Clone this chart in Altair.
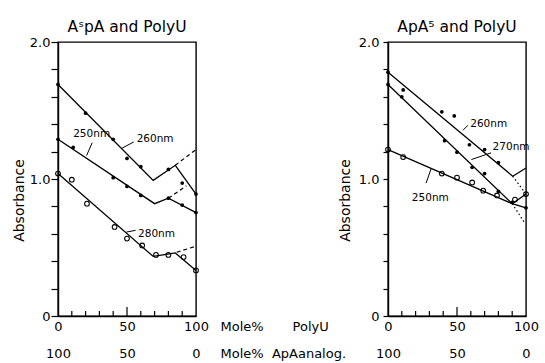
import altair as alt
import pandas as pd

FONT = "DejaVu Sans"
W, H = 138, 274
NB = "\u00a0"

X_DOMAIN = [0, 100]
Y_DOMAIN = [0, 2]

# ---------------- Left panel: AˢpA and PolyU ----------------
L260_px = [0, 20, 40, 50, 60, 80, 90, 100]
L260_py = [1.69, 1.48, 1.29, 1.15, 1.09, 1.07, 0.97, 0.89]
L250_px = [0, 11, 40, 50, 60, 80, 90, 100]
L250_py = [1.29, 1.23, 1.01, 0.946, 0.88, 0.86, 0.81, 0.755]
L280_px = [0, 10, 21, 41, 50, 61, 71, 80, 91, 100]
L280_py = [1.04, 0.995, 0.82, 0.65, 0.565, 0.515, 0.446, 0.446, 0.43, 0.333]

L260_lx, L260_ly = [0, 69, 85, 100], [1.69, 0.99, 1.10, 0.89]
L250_lx, L250_ly = [0, 70, 80, 100], [1.29, 0.82, 0.86, 0.755]
L280_lx, L280_ly = [0, 69, 85, 100], [1.04, 0.435, 0.46, 0.333]
L260_dx, L260_dy = [85, 100], [1.10, 1.215]
L250_dx, L250_dy = [80, 93], [0.86, 0.95]
L280_dx, L280_dy = [86, 100], [0.465, 0.51]

L_lab_text = ["260nm", "250nm", "280nm"]
L_lab_x = [57, 11, 58]
L_lab_y = [1.29, 1.33, 0.60]
L_arr_x = [54.9, 24.8, 56.2]
L_arr_y = [1.27, 1.265, 0.625]
L_arr_x2 = [46.5, 20.7, 49.6]
L_arr_y2 = [1.226, 1.171, 0.613]

# ---------------- Right panel: ApA⁵ and PolyU ----------------
R260_px = [0, 11, 39, 48, 59, 70, 80]
R260_py = [1.78, 1.65, 1.49, 1.46, 1.25, 1.215, 1.12]
R270_px = [0, 10, 41, 50, 61, 70, 80, 90, 100]
R270_py = [1.69, 1.60, 1.28, 1.196, 1.085, 1.04, 0.91, 0.83, 0.79]
R250_px = [0, 11, 39, 50, 61, 69, 79, 92, 100]
R250_py = [1.215, 1.16, 1.04, 1.01, 0.975, 0.915, 0.88, 0.85, 0.89]

R260_lx, R260_ly = [0, 90.4, 100], [1.78, 1.02, 1.08]
R270_lx, R270_ly = [0, 90, 100], [1.69, 0.82, 0.79]
R250_lx, R250_ly = [0, 90, 100], [1.215, 0.82, 0.89]
R260_dx, R260_dy = [90.4, 100], [1.02, 0.89]
R270_dx, R270_dy = [90, 99], [0.82, 0.68]

R_lab_text = ["260nm", "270nm", "250nm"]
R_lab_x = [59.6, 75.8, 17.3]
R_lab_y = [1.40, 1.23, 0.86]
R_arr_x = [57.9, 74.7, 31.2]
R_arr_y = [1.392, 1.191, 1.074]
R_arr_x2 = [54.3, 60.4, 27.6]
R_arr_y2 = [1.355, 1.142, 0.97]

Y_TICKS = [0, 0.2, 0.4, 0.6, 0.8, 1.0, 1.2, 1.4, 1.6, 1.8, 2.0]
X_MINOR = [10, 20, 30, 40, 60, 70, 80, 90]
X_MID = [50]
X_LABELS = [0, 50, 100]
MINOR_LEN = 0.037   # inward x-tick length in absorbance units
MID_LEN = 0.066


def seg_df(segs):
    rows = []
    for sid, (xs, ys) in enumerate(segs):
        for i, (a, b) in enumerate(zip(xs, ys)):
            rows.append(dict(x=a, y=b, seg=sid, i=i))
    return pd.DataFrame(rows)


def pts_df(groups):
    rows = []
    for kind, xs, ys in groups:
        for a, b in zip(xs, ys):
            rows.append(dict(x=a, y=b, kind=kind))
    return pd.DataFrame(rows)


def panel(title, solid, dashed, dash_pattern, filled, opened, lab, arr,
          xtitle, ytitle_x, ylab_pad, ytick):
    xs = alt.Scale(domain=X_DOMAIN, nice=False, zero=False)
    ys = alt.Scale(domain=Y_DOMAIN, nice=False, zero=True)
    x_axis = alt.Axis(
        values=X_LABELS, ticks=False, tickSize=0, domain=True,
        domainColor="black", domainWidth=1.4, grid=False,
        labelExpr="[datum.label, toString(100 - datum.value)]",
        labelLineHeight=27, labelPadding=4, labelFont=FONT, labelFontSize=13,
        labelColor="black", labelFlush=False,
        title=xtitle if xtitle else "",
        titleFont=FONT, titleFontSize=13, titleFontWeight="normal",
        titleColor="black", titleAlign="left", titleBaseline="top",
        titleX=162, titleY=4, titleLineHeight=27,
    )
    y_axis = alt.Axis(
        values=Y_TICKS, grid=False, domain=True, domainColor="black",
        domainWidth=1.4, ticks=True, tickSize=ytick, tickColor="black",
        tickWidth=1.2,
        labelExpr="datum.value == 0 ? '0' : (abs(datum.value - 1) < 0.01 || abs(datum.value - 2) < 0.01) ? format(datum.value, '.1f') : ''",
        labelFont=FONT, labelFontSize=13, labelColor="black",
        labelPadding=ylab_pad, labelFlush=False,
        title="Absorbance", titleFont=FONT, titleFontSize=14,
        titleFontWeight="normal", titleColor="black", titleAngle=270,
        titleAlign="center", titleBaseline="middle",
        titleX=ytitle_x, titleY=158,
    )
    X = alt.X("x:Q", scale=xs, axis=x_axis)
    Y = alt.Y("y:Q", scale=ys, axis=y_axis)

    lines = alt.Chart(seg_df(solid)).mark_line(color="black", strokeWidth=1.3).encode(
        x=X, y=Y, detail="seg:N", order="i:O")
    dlines = alt.Chart(seg_df(dashed)).mark_line(
        color="black", strokeWidth=1.2, strokeDash=dash_pattern).encode(
        x=X, y=Y, detail="seg:N", order="i:O")
    fpts = alt.Chart(pts_df(filled)).mark_point(
        filled=True, color="black", size=14, opacity=1).encode(x=X, y=Y)
    layers = [lines, dlines, fpts]
    if opened:
        opts = alt.Chart(pts_df(opened)).mark_point(
            filled=False, color="black", size=22, strokeWidth=1.1, opacity=1
        ).encode(x=X, y=Y)
        layers.append(opts)
    labdf = pd.DataFrame(dict(x=lab[1], y=lab[2], t=lab[0]))
    texts = alt.Chart(labdf).mark_text(
        align="left", baseline="middle", font=FONT, fontSize=10.5,
        color="black").encode(x=X, y=Y, text="t:N")
    arrdf = pd.DataFrame(dict(x=arr[0], y=arr[1], x2=arr[2], y2=arr[3]))
    arrows = alt.Chart(arrdf).mark_rule(color="black", strokeWidth=1).encode(
        x=X, y=Y, x2="x2:Q", y2="y2:Q")
    tickdf = pd.DataFrame(dict(
        x=X_MINOR + X_MID, y=[0] * (len(X_MINOR) + len(X_MID)),
        y2=[MINOR_LEN] * len(X_MINOR) + [MID_LEN] * len(X_MID)))
    ticks = alt.Chart(tickdf).mark_rule(color="black", strokeWidth=1.2).encode(
        x=X, y=Y, y2="y2:Q")
    layers += [texts, arrows, ticks]
    return alt.layer(*layers).properties(
        width=W, height=H,
        title=alt.TitleParams(text=title, font=FONT, fontSize=15.5,
                              fontWeight="normal", color="black",
                              anchor="middle", offset=1),
    )


left = panel(
    "A\u02e2pA and PolyU",
    [(L260_lx, L260_ly), (L250_lx, L250_ly), (L280_lx, L280_ly)],
    [(L260_dx, L260_dy), (L250_dx, L250_dy), (L280_dx, L280_dy)],
    [4, 3],
    [("a", L260_px, L260_py), ("b", L250_px, L250_py)],
    [("c", L280_px, L280_py)],
    (L_lab_text, L_lab_x, L_lab_y),
    (L_arr_x, L_arr_y, L_arr_x2, L_arr_y2),
    ["Mole%" + NB * 7 + "PolyU", "Mole%" + NB * 2 + "ApAanalog."],
    -39, 1, 7,
)

right = panel(
    "ApA\u2075 and PolyU",
    [(R260_lx, R260_ly), (R270_lx, R270_ly), (R250_lx, R250_ly)],
    [(R260_dx, R260_dy), (R270_dx, R270_dy)],
    [1.5, 2.5],
    [("a", R260_px, R260_py), ("b", R270_px, R270_py)],
    [("c", R250_px, R250_py)],
    (R_lab_text, R_lab_x, R_lab_y),
    (R_arr_x, R_arr_y, R_arr_x2, R_arr_y2),
    None,
    -43, 4, 5,
)

chart = alt.hconcat(left, right, spacing=192, bounds="flush").properties(
    padding={"left": 11, "top": 18, "right": 5, "bottom": 5},
    background="white",
).configure_view(stroke="black", strokeWidth=1.4)

chart.save("out.html", embed_options={"renderer": "svg", "actions": False})
